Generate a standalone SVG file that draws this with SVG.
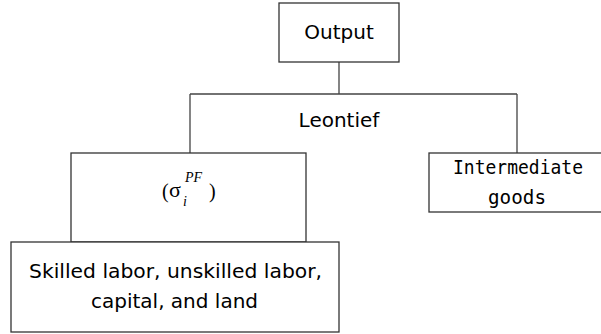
<svg xmlns="http://www.w3.org/2000/svg" width="601" height="334" viewBox="0 0 601 334">
<style>
.box{fill:#fff;stroke:#333;stroke-width:1.3}
.ln{fill:none;stroke:#444;stroke-width:1.3}
.t{font-family:"DejaVu Sans",sans-serif;font-size:20px;fill:#000;text-anchor:middle}
.m{font-family:"DejaVu Sans Mono",monospace;font-size:20px;fill:#000;text-anchor:middle}
.s{font-family:"Liberation Serif",serif;fill:#000}
</style>
<rect width="601" height="334" fill="#fff"/>
<g id="connectors">
<path class="ln" d="M339 62V94M190 94H517M190 94V153M517 94V153"/>
</g>
<g id="output">
<rect class="box" x="279" y="3" width="120" height="59"/>
<text class="t" x="339" y="39">Output</text>
</g>
<g id="leontief">
<text class="t" x="339" y="127">Leontief</text>
</g>
<g id="pf">
<rect class="box" x="71" y="153" width="235" height="89"/>
<text class="s" font-size="20" x="162" y="198">(</text>
<text class="s" font-size="22" x="169" y="197">σ</text>
<text class="s" font-size="14" font-style="italic" x="183" y="206">i</text>
<text class="s" font-size="14" font-style="italic" x="185" y="182">PF</text>
<text class="s" font-size="20" x="209" y="198">)</text>
</g>
<g id="intermediate">
<rect class="box" x="429" y="153" width="176" height="59"/>
<text class="m" x="518" y="174" textLength="130" lengthAdjust="spacingAndGlyphs">Intermediate</text>
<text class="m" x="517" y="204" textLength="58" lengthAdjust="spacingAndGlyphs">goods</text>
</g>
<g id="factors">
<rect class="box" x="11" y="242" width="328" height="90"/>
<text class="t" x="175.5" y="278" textLength="293" lengthAdjust="spacingAndGlyphs">Skilled labor, unskilled labor,</text>
<text class="t" x="174.5" y="308">capital, and land</text>
</g>
</svg>
